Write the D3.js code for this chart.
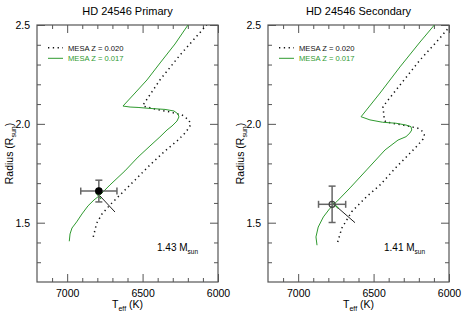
<!DOCTYPE html>
<html>
<head>
<meta charset="utf-8">
<script src="https://cdn.jsdelivr.net/npm/d3@7"></script>
<style>
  body { margin: 0; background: #fff; }
  svg { font-family: 'Liberation Sans', Arial, Helvetica, sans-serif; }
</style>
</head>
<body>
<div id="vis"></div>
<script>
// values: [Teff (K), radius (Rsun)]
const priZ020 = [
  [6827, 1.428], [6804, 1.498], [6769, 1.544], [6716, 1.590], [6650, 1.640],
  [6550, 1.716], [6451, 1.792], [6351, 1.863], [6265, 1.918], [6212, 1.959],
  [6182, 1.994], [6192, 2.019], [6239, 2.045], [6318, 2.060], [6418, 2.075],
  [6497, 2.090], [6497, 2.095], [6385, 2.222], [6252, 2.348], [6075, 2.5]
];
const priZ017 = [
  [6986, 1.406], [6981, 1.443], [6968, 1.473], [6937, 1.504], [6902, 1.544],
  [6862, 1.585], [6822, 1.615], [6789, 1.635], [6716, 1.691], [6617, 1.762],
  [6530, 1.832], [6451, 1.888], [6385, 1.934], [6338, 1.969], [6305, 1.989],
  [6272, 2.014], [6259, 2.035], [6265, 2.050], [6292, 2.065], [6351, 2.073],
  [6451, 2.078], [6530, 2.083], [6583, 2.085], [6630, 2.090], [6550, 2.156],
  [6471, 2.222], [6384, 2.308], [6285, 2.404], [6199, 2.5]
];
const priIsoBlack = [[6782, 1.635], [6683, 1.554]];
const priIsoGreen = [[6809, 1.651], [6776, 1.620]];
const priStar = {teff: 6790, teffErr: 120, r: 1.66, rErr: 0.055};

const secZ020 = [
  [6738, 1.402], [6711, 1.472], [6645, 1.556], [6546, 1.632], [6457, 1.691],
  [6347, 1.783], [6259, 1.851], [6206, 1.893], [6172, 1.923], [6164, 1.944],
  [6179, 1.964], [6207, 1.978], [6307, 1.994], [6373, 2.003], [6418, 2.009],
  [6429, 2.019], [6434, 2.060], [6438, 2.087], [6325, 2.196], [6192, 2.323],
  [6060, 2.434], [5960, 2.525]
];
const secZ017 = [
  [6875, 1.386], [6882, 1.428], [6867, 1.478], [6833, 1.529], [6789, 1.573],
  [6745, 1.606], [6656, 1.676], [6546, 1.767], [6424, 1.868], [6338, 1.918],
  [6285, 1.935], [6259, 1.954], [6247, 1.969], [6252, 1.986], [6285, 1.994],
  [6351, 2.003], [6440, 2.008], [6524, 2.020], [6583, 2.036], [6457, 2.156],
  [6325, 2.288], [6192, 2.414], [6097, 2.5]
];
const secIsoBlack = [[6745, 1.581], [6623, 1.50]];
const secIsoGreen = [[6778, 1.606], [6734, 1.573]];
const secStar = {teff: 6775, teffErr: 90, r: 1.593, rErr: 0.092};

const xMajor = [7000, 6500, 6000];
const yMajor = [1.5, 2.0, 2.5];
const legendLabels = ['MESA Z = 0.020', 'MESA Z = 0.017'];

const green = '#2f9a2f';
const frameCol = '#555';

const svg = d3.select('#vis')
  .append('svg')
  .attr('width', 472)
  .attr('height', 314);

const height = 257;
const width = 181;

function drawPanel(left, opts) {
  const g = svg.append('g')
    .attr('transform', 'translate(' + left + ',25)');

  const x = d3.scaleLinear().domain([7200, 6000]).range([0, width]);
  const y = d3.scaleLinear().domain([1.2, 2.5]).range([height, 0]);

  const xMinor = d3.range(7100, 6000, -100).filter(v => v % 500 !== 0);
  const yMinor = d3.range(13, 25).map(v => v / 10).filter(v => Math.round(v * 10) % 5 !== 0);

  // axes, ticks pointing inward on all four sides
  const addAxis = function(axis, tf) {
    const a = g.append('g').attr('transform', tf).call(axis);
    a.select('.domain').remove();
    a.selectAll('line').attr('stroke', frameCol);
    a.selectAll('text').attr('fill', '#000').style('font-size', '10.5px')
      .style('font-family', null);
    return a;
  };
  addAxis(d3.axisBottom(x).tickValues(xMajor).tickSize(-8).tickPadding(8).tickFormat(d3.format('d')), 'translate(0,' + height + ')');
  addAxis(d3.axisBottom(x).tickValues(xMinor).tickSize(-4).tickFormat(''), 'translate(0,' + height + ')');
  addAxis(d3.axisTop(x).tickValues(xMajor).tickSize(-8).tickFormat(''), 'translate(0,0)');
  addAxis(d3.axisTop(x).tickValues(xMinor).tickSize(-4).tickFormat(''), 'translate(0,0)');
  addAxis(d3.axisLeft(y).tickValues(yMajor).tickSize(-8).tickPadding(7).tickFormat(d3.format('.1f')), 'translate(0,0)');
  addAxis(d3.axisLeft(y).tickValues(yMinor).tickSize(-4).tickFormat(''), 'translate(0,0)');
  addAxis(d3.axisRight(y).tickValues(yMajor).tickSize(-8).tickFormat(''), 'translate(' + width + ',0)');
  addAxis(d3.axisRight(y).tickValues(yMinor).tickSize(-4).tickFormat(''), 'translate(' + width + ',0)');

  g.append('rect')
    .attr('width', width)
    .attr('height', height)
    .attr('fill', 'none')
    .attr('stroke', frameCol)
    .attr('stroke-width', 1.2);

  g.append('clipPath').attr('id', 'clip' + left)
    .append('rect').attr('width', width).attr('height', height);

  const line = d3.line().x(d => x(d[0])).y(d => y(d[1])).curve(d3.curveLinear);
  const plot = g.append('g').attr('clip-path', 'url(#clip' + left + ')');

  plot.append('path').datum(opts.z020)
    .attr('d', line).attr('fill', 'none')
    .attr('stroke', '#111').attr('stroke-width', 1.5)
    .attr('stroke-dasharray', '1.3,3.5');
  plot.append('path').datum(opts.z017)
    .attr('d', line).attr('fill', 'none')
    .attr('stroke', green).attr('stroke-width', 1);
  plot.append('path').datum(opts.isoBlack)
    .attr('d', line).attr('fill', 'none')
    .attr('stroke', '#222').attr('stroke-width', 1);
  plot.append('path').datum(opts.isoGreen)
    .attr('d', line).attr('fill', 'none')
    .attr('stroke', green).attr('stroke-width', 1.2);

  // measured star with error bars
  const s = opts.star;
  const eb = g.append('g').attr('stroke', '#666').attr('stroke-width', 1.5);
  const x0 = x(s.teff + s.teffErr); const x1 = x(s.teff - s.teffErr);
  const y0 = y(s.r + s.rErr); const y1 = y(s.r - s.rErr);
  const cx = x(s.teff); const cy = y(s.r);
  eb.append('line').attr('x1', x0).attr('x2', x1).attr('y1', cy).attr('y2', cy);
  eb.append('line').attr('x1', cx).attr('x2', cx).attr('y1', y0).attr('y2', y1);
  [x0, x1].forEach(v => eb.append('line').attr('x1', v).attr('x2', v).attr('y1', cy - 3.5).attr('y2', cy + 3.5));
  [y0, y1].forEach(v => eb.append('line').attr('y1', v).attr('y2', v).attr('x1', cx - 3.5).attr('x2', cx + 3.5));
  g.append('circle').attr('cx', cx).attr('cy', cy).attr('r', opts.filled ? 3.2 : 3)
    .attr('fill', opts.filled ? '#000' : 'none')
    .attr('stroke', opts.filled ? '#000' : '#444').attr('stroke-width', 1.2);

  // legend
  const lg = g.append('g').attr('transform', 'translate(' + opts.legX + ',0)');
  lg.append('line').attr('x1', 0).attr('x2', 15).attr('y1', 22.7).attr('y2', 22.7)
    .attr('stroke', '#111').attr('stroke-width', 1.5).attr('stroke-dasharray', '1.3,3.5');
  lg.append('line').attr('x1', 0).attr('x2', 15).attr('y1', 33.3).attr('y2', 33.3)
    .attr('stroke', green).attr('stroke-width', 1);
  lg.append('text').attr('x', 20).attr('y', 25.5).text(legendLabels[0])
    .style('font-size', '7.6px').attr('fill', '#111');
  lg.append('text').attr('x', 20).attr('y', 36.1).text(legendLabels[1])
    .style('font-size', '7.6px').attr('fill', green);

  // title
  svg.append('text').attr('x', left + width / 2).attr('y', 15)
    .attr('text-anchor', 'middle').style('font-size', '11px').text(opts.title);

  // mass
  const m = g.append('text').attr('x', opts.massX).attr('y', 225.5).style('font-size', '10px');
  m.append('tspan').text(opts.mass + ' M');
  m.append('tspan').attr('dy', 3).style('font-size', '6.5px').text('sun');

  // x label
  const xl = g.append('text').attr('x', width / 2).attr('y', 283)
    .attr('text-anchor', 'middle').style('font-size', '10.5px');
  xl.append('tspan').text('T');
  xl.append('tspan').attr('dy', 3).style('font-size', '7px').text('eff');
  xl.append('tspan').attr('dy', -3).text(' (K)');

  // y label
  const yl = g.append('text')
    .attr('transform', 'translate(-24,' + height / 2 + ') rotate(-90)')
    .attr('text-anchor', 'middle').style('font-size', '10.5px');
  yl.append('tspan').text('Radius (R');
  yl.append('tspan').attr('dy', 3).style('font-size', '7px').text('sun');
  yl.append('tspan').attr('dy', -3).text(')');
}

drawPanel(37, {
  title: 'HD 24546 Primary', z020: priZ020, z017: priZ017,
  isoBlack: priIsoBlack, isoGreen: priIsoGreen, star: priStar, filled: true,
  legX: 11, mass: '1.43', massX: 120
});
drawPanel(268, {
  title: 'HD 24546 Secondary', z020: secZ020, z017: secZ017,
  isoBlack: secIsoBlack, isoGreen: secIsoGreen, star: secStar, filled: false,
  legX: 11, mass: '1.41', massX: 116
});
</script>
</body>
</html>
